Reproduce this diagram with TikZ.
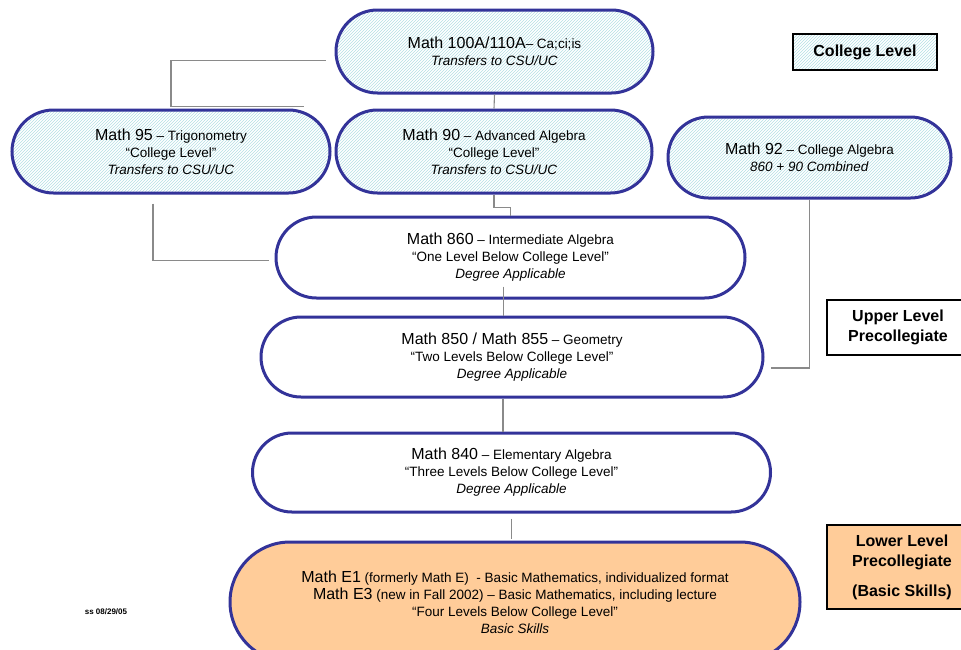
\documentclass[tikz,border=0pt]{standalone}
\usepackage{fontspec}
\setmainfont{Liberation Sans}
\usepackage{tikz}
\usetikzlibrary{positioning}
\usetikzlibrary{calc}
\usetikzlibrary{shapes.misc}
\usetikzlibrary{patterns}
\definecolor{ringblue}{HTML}{333399}
\definecolor{hatchblue}{HTML}{B3DFE3}
\definecolor{peach}{HTML}{FFCC99}
\definecolor{wire}{HTML}{8A8A8A}
\newcommand{\crs}[1]{{\fontsize{16}{17}\selectfont #1}}
\tikzset{
  pill/.style           = { rounded rectangle, draw=ringblue, line width=3pt, align=center,
                            font=\fontsize{13.5}{17}\selectfont, inner sep=0pt },
  hatched/.style        = { pattern=north east lines, pattern color=hatchblue },
  college/.style        = { pill, hatched },
  precol/.style         = { pill, fill=white },
  basic/.style          = { pill, fill=peach },
}
\tikzset{
  level/.style          = { rectangle, draw=black, line width=2.8pt, align=center,
                            font=\fontsize{16}{20}\selectfont\bfseries, inner sep=0pt },
  link/.style           = { draw=wire, line width=1.1pt }
}
\begin{document}
\begin{tikzpicture}[x=1pt, y=-1pt]
  \useasboundingbox (0,0) rectangle (961,649);
  % courses
  \node (m100) [college, minimum width=317pt, minimum height=83pt] at (494.5,51.5)
      {\crs{Math 100A/110A}– Ca;ci;is\\ \textit{Transfers to CSU/UC}};
  \node (m95)  [college, minimum width=318pt, minimum height=83pt] at (171,151.5)
      {\crs{Math 95} – Trigonometry\\“College Level”\\ \textit{Transfers to CSU/UC}};
  \node (m90)  [college, minimum width=316pt, minimum height=83pt] at (494,151.5)
      {\crs{Math 90} – Advanced Algebra\\“College Level”\\ \textit{Transfers to CSU/UC}};
  \node (m92)  [college, minimum width=283pt, minimum height=81pt] at (809.5,157.5)
      {\crs{Math 92} – College Algebra\\ \textit{860 + 90 Combined}};
  \node (m860) [precol, minimum width=469pt, minimum height=81pt] at (510.5,257.5)
      {\crs{Math 860} – Intermediate Algebra\\“One Level Below College Level”\\ \textit{Degree Applicable}};
  \node (m850) [precol, minimum width=502pt, minimum height=80pt] at (512,357)
      {\crs{Math 850 / Math 855} – Geometry\\“Two Levels Below College Level”\\ \textit{Degree Applicable}};
  \node (m840) [precol, minimum width=518pt, minimum height=79pt] at (511.5,472.5)
      {\crs{Math 840} – Elementary Algebra\\“Three Levels Below College Level”\\ \textit{Degree Applicable}};
  \node (mE)   [basic, minimum width=570pt, minimum height=120pt] at (515,602)
      {\crs{Math E1} (formerly Math E)\ \ - Basic Mathematics, individualized format\\
       \crs{Math E3} (new in Fall 2002) – Basic Mathematics, including lecture\\
       “Four Levels Below College Level”\\ \textit{Basic Skills}};

  % levels
  \node (college) [level, hatched, minimum width=144pt, minimum height=36pt] at (865,52) {College Level};
  \node (upper)   [level, fill=white, minimum width=142pt, minimum height=55pt] at (898,327.5)
      {Upper Level\\Precollegiate};
  \node (lower)   [level, fill=peach, minimum width=150pt, minimum height=84pt] at (902,567)
      {Lower Level\\Precollegiate\\[10pt](Basic Skills)};
  \node (stamp)   [font=\fontsize{8}{9}\selectfont\bfseries] at (106,612) {ss 08/29/05};

  \draw [link] ([shift={(-9pt,-9pt)}]m100.west) -| ([yshift=2pt]m95.north) -- ++(133,0);
  \draw [link] (m100.south) -- (m90.north);
  \draw [link] (m90.south) -- ++(0,13) -| (m860.north);
  \draw [link] ([shift={(-18pt,-9pt)}]m95.south) |- ([shift={(-6pt,-3pt)}]m860.west);
  \draw [link] (m92.south) |- ([shift={(6pt,-11pt)}]m850.east);
  \draw [link] ([shift={(-7pt,13pt)}]m860.south) -- ([xshift=-7pt]m860.south |- m850.north);
  \draw [link] ([xshift=-9pt]m850.south) -- ([xshift=-9pt]m850.south |- m840.north);
  \draw [link] ([yshift=-5pt]m840.south) -- ([yshift=2pt]m840.south |- mE.north);
\end{tikzpicture}
\end{document}
